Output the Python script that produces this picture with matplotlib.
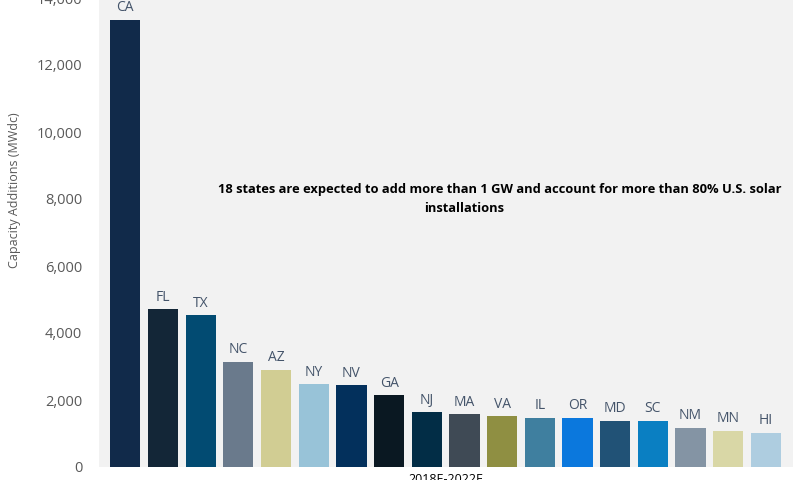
import matplotlib
matplotlib.use("Agg")
import matplotlib.pyplot as plt
from matplotlib.ticker import FuncFormatter

plt.rcParams['font.family'] = ['Open Sans', 'DejaVu Sans']

states = ['CA', 'FL', 'TX', 'NC', 'AZ', 'NY', 'NV', 'GA', 'NJ',
          'MA', 'VA', 'IL', 'OR', 'MD', 'SC', 'NM', 'MN', 'HI']
capacity = [13350, 4720, 4540, 3140, 2900, 2480, 2450, 2150, 1640,
            1580, 1520, 1470, 1470, 1380, 1380, 1170, 1080, 1020]
colors = ['#112a4a', '#132637', '#024b72', '#6a7a8c', '#d1cd93', '#98c3d8',
          '#03305c', '#0a1822', '#022d46', '#3f4a55', '#8f8f42', '#3f7f9f',
          '#0b78dd', '#215276', '#0a7fc2', '#8494a4', '#d9d7a6', '#aecde0']
yticks = [0, 2000, 4000, 6000, 8000, 10000, 12000, 14000]
note = ['18 states are expected to add more than 1 GW and account for more than 80% U.S. solar',
        'installations']

fig = plt.figure(figsize=(8, 4.8), dpi=100)
ax = fig.add_axes([99 / 800, 13 / 480, 694 / 800, 469 / 480])
ax.set_facecolor('#f2f2f2')

x = range(len(states))
bars = ax.bar(x, capacity, width=0.8, color=colors)
for i, b in enumerate(bars):
    ax.text(b.get_x() + b.get_width() / 2, b.get_height() + 130, states[i],
            ha='center', va='bottom', fontsize=10, color='#44546a')

ax.set_xlim(-0.7, 17.72)
ax.set_ylim(0, 14000)
ax.set_yticks(yticks)
ax.yaxis.set_major_formatter(FuncFormatter(lambda v, p: f'{int(v):,}'))
ax.set_xticks([])
ax.tick_params(axis='y', length=0, pad=12, labelsize=10.5, labelcolor='#595959')
for s in ax.spines.values():
    s.set_visible(False)

ax.set_ylabel('Capacity Additions (MWdc)', fontsize=9, color='#595959')
ax.yaxis.set_label_coords(-0.113, 0.59)
ax.set_xlabel('2018E-2022E', fontsize=9, color='#000000', labelpad=4)

ax.text(500, 480 - 189, note[0], transform=None, ha='center', va='center',
        fontsize=9.3, fontweight='bold', color='#000000')
ax.text(464, 480 - 209, note[1], transform=None, ha='center', va='center',
        fontsize=9.3, fontweight='bold', color='#000000')

fig.savefig('out.png', dpi=100)
